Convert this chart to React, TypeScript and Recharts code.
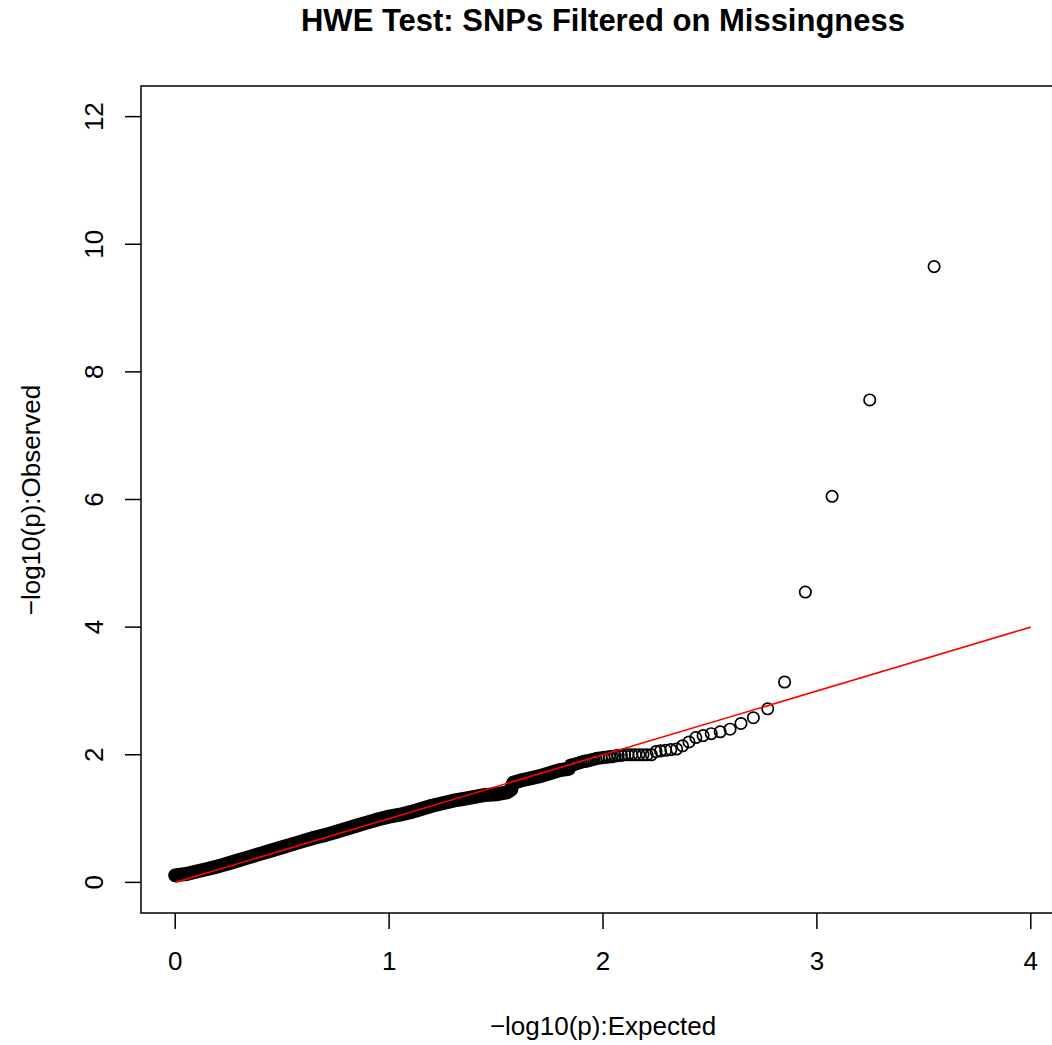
import {
  ComposedChart,
  Scatter,
  Line,
  XAxis,
  YAxis,
  ReferenceLine,
  ReferenceArea,
} from "recharts";

// dense part of the QQ cloud (read as the centre of the black band)
const bandExpected = [
  0.0, 0.05, 0.1, 0.15, 0.2, 0.25, 0.3, 0.35, 0.4, 0.45, 0.5, 0.55, 0.6, 0.65,
  0.7, 0.75, 0.8, 0.85, 0.9, 0.95, 1.0, 1.05, 1.1, 1.15, 1.2, 1.25, 1.3, 1.35,
  1.4, 1.45, 1.5, 1.55, 1.57, 1.58, 1.62, 1.66, 1.7, 1.75, 1.8, 1.84,
];
const bandObserved = [
  0.11, 0.13, 0.17, 0.21, 0.25, 0.3, 0.35, 0.4, 0.45, 0.5, 0.55, 0.6, 0.65,
  0.7, 0.74, 0.79, 0.84, 0.89, 0.94, 0.99, 1.03, 1.06, 1.1, 1.15, 1.2, 1.24,
  1.28, 1.31, 1.34, 1.37, 1.38, 1.41, 1.45, 1.56, 1.6, 1.63, 1.66, 1.71, 1.76,
  1.78,
];

// the 50 smallest p-values, where single circles can be told apart
const tailExpected = [
  1.849, 1.858, 1.867, 1.876, 1.885, 1.895, 1.905, 1.915, 1.925, 1.935, 1.946,
  1.957, 1.968, 1.98, 1.992, 2.004, 2.017, 2.03, 2.043, 2.057, 2.071, 2.086,
  2.101, 2.117, 2.134, 2.151, 2.168, 2.187, 2.206, 2.226, 2.248, 2.269, 2.293,
  2.317, 2.344, 2.372, 2.402, 2.434, 2.468, 2.506, 2.548, 2.594, 2.645, 2.703,
  2.77, 2.849, 2.946, 3.071, 3.247, 3.548,
];
const tailObserved = [
  1.84, 1.84, 1.85, 1.86, 1.87, 1.88, 1.89, 1.9, 1.9, 1.91, 1.92, 1.93, 1.94,
  1.95, 1.95, 1.96, 1.96, 1.97, 1.97, 1.98, 1.99, 1.99, 2.0, 2.0, 2.0, 2.0,
  2.0, 2.0, 2.0, 2.0, 2.05, 2.06, 2.07, 2.08, 2.09, 2.14, 2.2, 2.27, 2.3, 2.33,
  2.36, 2.4, 2.49, 2.58, 2.72, 3.14, 4.55, 6.05, 7.56, 9.65,
];

const xTicks = [0, 1, 2, 3, 4];
const yTicks = [0, 2, 4, 6, 8, 10, 12];

const band = bandExpected.map((x, i) => ({ x, y: bandObserved[i] }));
const tail = tailExpected.map((x, i) => ({ x, y: tailObserved[i] }));

const FONT = '"Liberation Sans", Arial, Helvetica, sans-serif';

const OpenCircle = (props: any) => (
  <circle
    cx={props.cx}
    cy={props.cy}
    r={5.7}
    fill="none"
    stroke="#000"
    strokeWidth={1.7}
  />
);

const YTick = ({ x, y, payload }: any) => (
  <text
    x={x}
    y={y}
    transform={`rotate(-90, ${x}, ${y})`}
    textAnchor="middle"
    fontSize={26}
    fontFamily={FONT}
    fill="#000"
  >
    {payload.value}
  </text>
);

export default function App() {
  return (
    <div
      style={{
        position: "absolute",
        left: 0,
        top: 0,
        width: 1052,
        height: 1045,
        overflow: "hidden",
        background: "#fff",
        fontFamily: FONT,
      }}
    >
      <ComposedChart
        width={1066}
        height={1045}
        margin={{ top: 86, right: 1, bottom: 0, left: 0 }}
      >
        <XAxis
          dataKey="x"
          type="number"
          domain={[-0.16, 4.16]}
          ticks={xTicks}
          allowDataOverflow
          height={132}
          axisLine={false}
          tickSize={16}
          tickMargin={23}
          tickLine={{ stroke: "#000", strokeWidth: 1.5 }}
          tick={{ fontSize: 26, fill: "#000", fontFamily: FONT }}
        />
        <YAxis
          dataKey="y"
          type="number"
          domain={[-0.48, 12.48]}
          ticks={yTicks}
          allowDataOverflow
          width={141}
          axisLine={false}
          tickSize={16}
          tickMargin={22}
          tickLine={{ stroke: "#000", strokeWidth: 1.5 }}
          tick={<YTick />}
        />
        <ReferenceArea
          x1={-0.16}
          x2={4.16}
          y1={-0.48}
          y2={12.48}
          fill="none"
          fillOpacity={0}
          stroke="#000"
          strokeWidth={1.5}
          ifOverflow="visible"
        />
        <Line
          data={band}
          dataKey="y"
          type="linear"
          stroke="#000"
          strokeWidth={14}
          strokeLinecap="round"
          strokeLinejoin="round"
          dot={false}
          activeDot={false}
          isAnimationActive={false}
        />
        <Scatter
          data={band}
          dataKey="y"
          shape={OpenCircle}
          isAnimationActive={false}
        />
        <Scatter
          data={tail}
          dataKey="y"
          shape={OpenCircle}
          isAnimationActive={false}
        />
        <ReferenceLine
          segment={[
            { x: 0, y: 0 },
            { x: 4, y: 4 },
          ]}
          stroke="#ff0000"
          strokeWidth={1.6}
          zIndex={1000}
        />
      </ComposedChart>

      <div
        style={{
          position: "absolute",
          left: 141,
          top: 5,
          width: 924,
          textAlign: "center",
          fontSize: 31,
          lineHeight: "31px",
          fontWeight: "bold",
          color: "#000",
        }}
      >
        HWE Test: SNPs Filtered on Missingness
      </div>
      <div
        style={{
          position: "absolute",
          left: 141,
          top: 1013,
          width: 924,
          textAlign: "center",
          fontSize: 26,
          lineHeight: "26px",
          color: "#000",
        }}
      >
        −log10(p):Expected
      </div>
      <div
        style={{
          position: "absolute",
          left: 31 - 200,
          top: 500 - 13,
          width: 400,
          height: 26,
          textAlign: "center",
          fontSize: 26,
          lineHeight: "26px",
          color: "#000",
          transform: "rotate(-90deg)",
        }}
      >
        −log10(p):Observed
      </div>
    </div>
  );
}
